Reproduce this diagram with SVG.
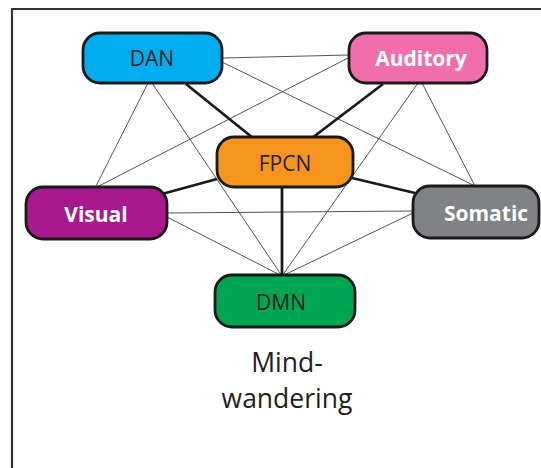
<svg xmlns="http://www.w3.org/2000/svg" width="541" height="468" viewBox="0 0 541 468">
<style>
.bg{fill:#ffffff}
.frame{fill:none;stroke:#333333;stroke-width:2.2}
.thin{stroke:#555555;stroke-width:1;fill:none}
.thick{stroke:#1a1a1a;stroke-width:2.8;fill:none}
.box{stroke:#1a1a1a;stroke-width:2.8}
.lbl{font-family:"Open Sans","Liberation Sans",sans-serif;font-size:21px;text-anchor:middle;fill:#231F20}
.blbl{font-family:"Open Sans","Liberation Sans",sans-serif;font-size:21px;font-weight:bold;text-anchor:middle;fill:#ffffff}
.cap{font-family:"Open Sans","Liberation Sans",sans-serif;font-size:26.5px;text-anchor:middle;fill:#231F20}
</style>
<rect class="bg" x="0" y="0" width="541" height="468"/>
<path class="frame" d="M12,470 L12,9 L545,9"/>
<g id="connectors">
<line class="thin" x1="222" y1="58" x2="349" y2="55"/>
<line class="thin" x1="222" y1="62" x2="475" y2="186"/>
<line class="thin" x1="348" y1="58" x2="95" y2="188"/>
<line class="thin" x1="148" y1="83" x2="95" y2="188"/>
<line class="thin" x1="152" y1="83" x2="282" y2="276"/>
<line class="thin" x1="422" y1="83" x2="475" y2="186"/>
<line class="thin" x1="418" y1="83" x2="282" y2="276"/>
<line class="thin" x1="165" y1="213" x2="413" y2="211"/>
<line class="thin" x1="167" y1="217" x2="282" y2="276"/>
<line class="thin" x1="413" y1="213" x2="282" y2="276"/>
<line class="thick" x1="186" y1="84" x2="253" y2="138"/>
<line class="thick" x1="383" y1="84" x2="312" y2="138"/>
<line class="thick" x1="217" y1="179" x2="162" y2="194"/>
<line class="thick" x1="352" y1="178" x2="415" y2="193"/>
<line class="thick" x1="282" y1="187" x2="282" y2="276"/>
</g>
<g id="DAN">
<rect class="box" x="83" y="33" width="139" height="50" rx="17" fill="#00AEEF"/>
<text class="lbl" x="152" y="66">DAN</text>
</g>
<g id="Auditory">
<rect class="box" x="349" y="33" width="138" height="50" rx="17" fill="#F06EAA"/>
<text class="blbl" x="421" y="66">Auditory</text>
</g>
<g id="FPCN">
<rect class="box" x="217" y="137" width="136" height="50" rx="17" fill="#F7941D"/>
<text class="lbl" x="285" y="171">FPCN</text>
</g>
<g id="Visual">
<rect class="box" x="26" y="187" width="141" height="52" rx="17" fill="#A8198E"/>
<text class="blbl" x="96" y="222">Visual</text>
</g>
<g id="Somatic">
<rect class="box" x="413" y="186" width="126" height="52" rx="17" fill="#808285"/>
<text class="blbl" x="486" y="221">Somatic</text>
</g>
<g id="DMN">
<rect class="box" x="215" y="275" width="140" height="52" rx="17" fill="#00A651"/>
<text class="lbl" x="281" y="310">DMN</text>
</g>
<g id="caption">
<text class="cap" x="287" y="372">Mind-</text>
<text class="cap" x="287" y="408">wandering</text>
</g>
</svg>
